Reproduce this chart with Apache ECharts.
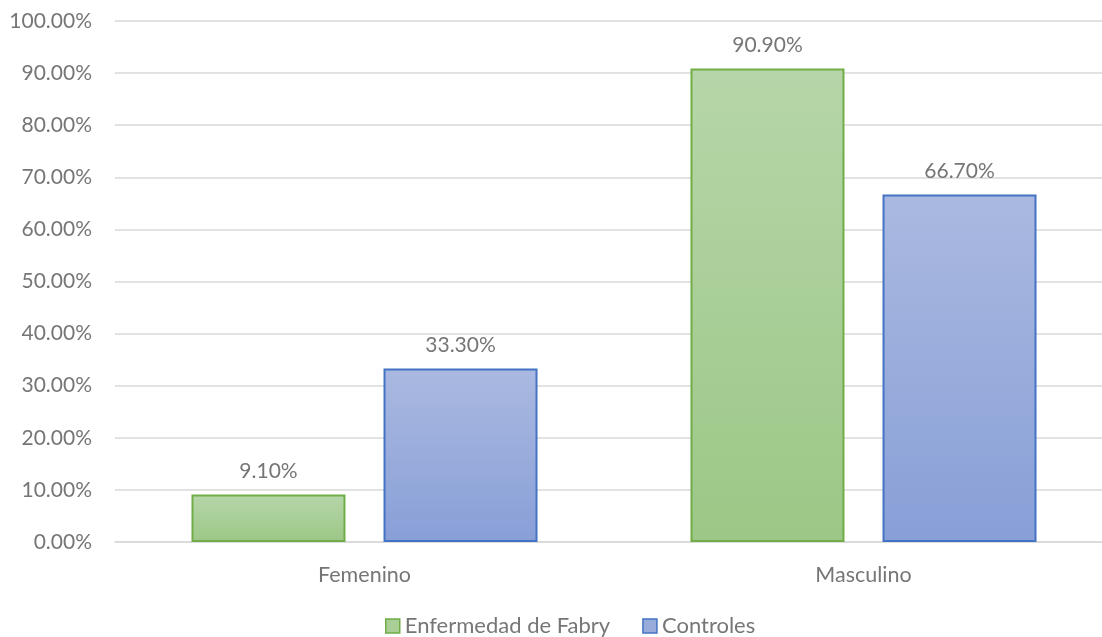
<!DOCTYPE html>
<html>
<head>
<meta charset="utf-8">
<script src="https://cdn.jsdelivr.net/npm/echarts@6/dist/echarts.min.js"></script>
<style>
  html, body { margin: 0; padding: 0; background: #fff; overflow: hidden; }
  #chart { width: 1113px; height: 637px; }
</style>
</head>
<body>
<div id="chart"></div>
<script>
// Sex distribution by group (percent)
const categories = ['Femenino', 'Masculino'];
const fabryValues = [9.10, 90.90];
const controlValues = [33.30, 66.70];
const seriesNames = ['Enfermedad de Fabry', 'Controles'];

const FONT = 'Lato, Calibri, "Liberation Sans", sans-serif';
const TEXT = '#767676';

function grad(top, bottom) {
  return new echarts.graphic.LinearGradient(0, 0, 0, 1, [
    { offset: 0, color: top },
    { offset: 1, color: bottom }
  ]);
}

const green = { fill: grad('#b6d6a9', '#9cc786'), border: '#70ad47' };
const blue = { fill: grad('#aab9e0', '#889fd7'), border: '#4472c4' };

const chart = echarts.init(document.getElementById('chart'), null, { renderer: 'canvas' });

const labelCfg = {
  show: true,
  position: 'top',
  distance: 13,
  color: TEXT,
  fontFamily: FONT,
  fontSize: 21,
  formatter: p => p.value.toFixed(2) + '%'
};

chart.setOption({
  animation: false,
  backgroundColor: '#ffffff',
  grid: { left: 115, top: 21, width: 998, height: 521, containLabel: false },
  legend: {
    top: 610,
    left: 380,
    itemWidth: 14,
    itemHeight: 14,
    itemGap: 32,
    textStyle: { color: TEXT, fontFamily: FONT, fontSize: 22 },
    data: [
      { name: seriesNames[0], icon: 'rect', itemStyle: { color: '#a9cf96', borderColor: green.border, borderWidth: 1.5 } },
      { name: seriesNames[1], icon: 'rect', itemStyle: { color: '#98acdc', borderColor: blue.border, borderWidth: 1.5 } }
    ]
  },
  xAxis: {
    type: 'category',
    data: categories,
    axisLine: { show: true, lineStyle: { color: '#d9d9d9', width: 1.5 } },
    axisTick: { show: false },
    axisLabel: { color: TEXT, fontFamily: FONT, fontSize: 21.5, margin: 22 }
  },
  yAxis: {
    type: 'value',
    min: 0,
    max: 100,
    interval: 10,
    axisLine: { show: false },
    axisTick: { show: false },
    splitLine: { lineStyle: { color: '#d9d9d9', width: 1.5 } },
    axisLabel: {
      color: TEXT, fontFamily: FONT, fontSize: 21, margin: 23,
      formatter: v => v.toFixed(2) + '%'
    }
  },
  series: [
    {
      name: seriesNames[0],
      type: 'bar',
      data: fabryValues,
      barWidth: 154,
      barGap: '24.7%',
      itemStyle: { color: green.fill, borderColor: green.border, borderWidth: 2 },
      label: labelCfg
    },
    {
      name: seriesNames[1],
      type: 'bar',
      data: controlValues,
      barWidth: 154,
      barGap: '24.7%',
      itemStyle: { color: blue.fill, borderColor: blue.border, borderWidth: 2 },
      label: labelCfg
    }
  ]
});
</script>
</body>
</html>
